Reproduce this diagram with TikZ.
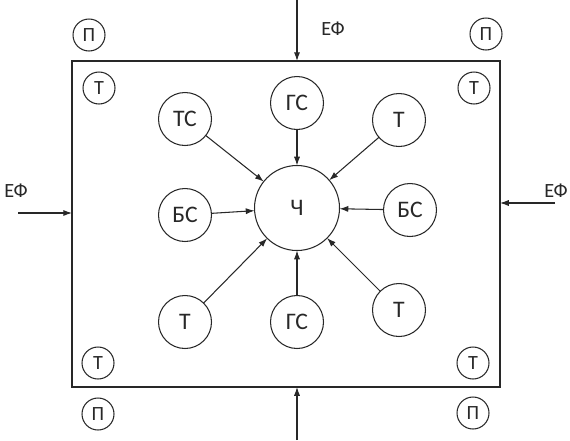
\documentclass[tikz,border=0pt]{standalone}
\usepackage{fontspec}
\setmainfont{Carlito}
\usetikzlibrary{arrows.meta}
\definecolor{ink}{RGB}{40,40,40}
\begin{document}
\begin{tikzpicture}[x=0.02cm,y=-0.02cm,
  every node/.style={circle,draw=ink,text=ink,line width=0.6pt,inner sep=0pt,outer sep=0pt},
  corner/.style={minimum size=0.64cm,font=\fontsize{11.5}{13}\selectfont},
  factor/.style={minimum size=1.06cm,font=\fontsize{13.5}{15}\selectfont},
  tag/.style={draw=none,rectangle,font=\fontsize{11.5}{13}\selectfont},
  link/.style={draw=ink,line width=0.6pt,-{Latex[length=5pt,width=3.5pt]}}]
\useasboundingbox (0,0) rectangle (570,440);
% environment frame
\node[rectangle,minimum width=8.56cm,minimum height=6.52cm,line width=0.7pt] (frame) at (286,224) {};
% corners
\node[corner] (p-nw) at (89,35) {П};
\node[corner] (p-ne) at (486,34) {П};
\node[corner] (p-sw) at (98,414) {П};
\node[corner] (p-se) at (473,413) {П};
\node[corner] (t-nw) at (99,88) {Т};
\node[corner] (t-ne) at (474,88) {Т};
\node[corner] (t-sw) at (98,363) {Т};
\node[corner] (t-se) at (473,363) {Т};
% man and factors
\node[minimum size=1.7cm,font=\fontsize{13.5}{15}\selectfont] (ch) at (297,208) {Ч};
\node[factor] (ts) at (185,119) {ТС};
\node[factor] (gs-n) at (297,103) {ГС};
\node[factor] (t-n) at (399,120) {Т};
\node[factor] (bs-w) at (185,215) {БС};
\node[factor] (bs-e) at (410,210) {БС};
\node[factor] (t-sw2) at (185,322) {Т};
\node[factor] (gs-s) at (297,322) {ГС};
\node[factor] (t-se2) at (399,310) {Т};
\draw[link] (ts) -- (ch);
\draw[link] (gs-n) -- (ch);
\draw[link] (t-n) -- (ch);
\draw[link] (bs-w) -- (ch);
\draw[link] (bs-e) -- (ch);
\draw[link] (t-sw2) -- (ch);
\draw[link] (gs-s) -- (ch);
\draw[link] (t-se2) -- (ch);
% external flows
\coordinate (ef-n) at (297,0);
\coordinate (ef-s) at (297,440);
\coordinate (ef-w) at (18,213);
\coordinate (ef-e) at (555,203);
\draw[link] (ef-n) -- (ef-n |- frame.north);
\draw[link] (ef-s) -- (ef-s |- frame.south);
\draw[link] (ef-w) -- (ef-w -| frame.west);
\draw[link] (ef-e) -- (ef-e -| frame.east);
\node[tag] (ef-n-text) at (333,29) {ЕФ};
\node[tag] (ef-w-text) at (16,191) {ЕФ};
\node[tag] (ef-e-text) at (556,191) {ЕФ};
\end{tikzpicture}
\end{document}
